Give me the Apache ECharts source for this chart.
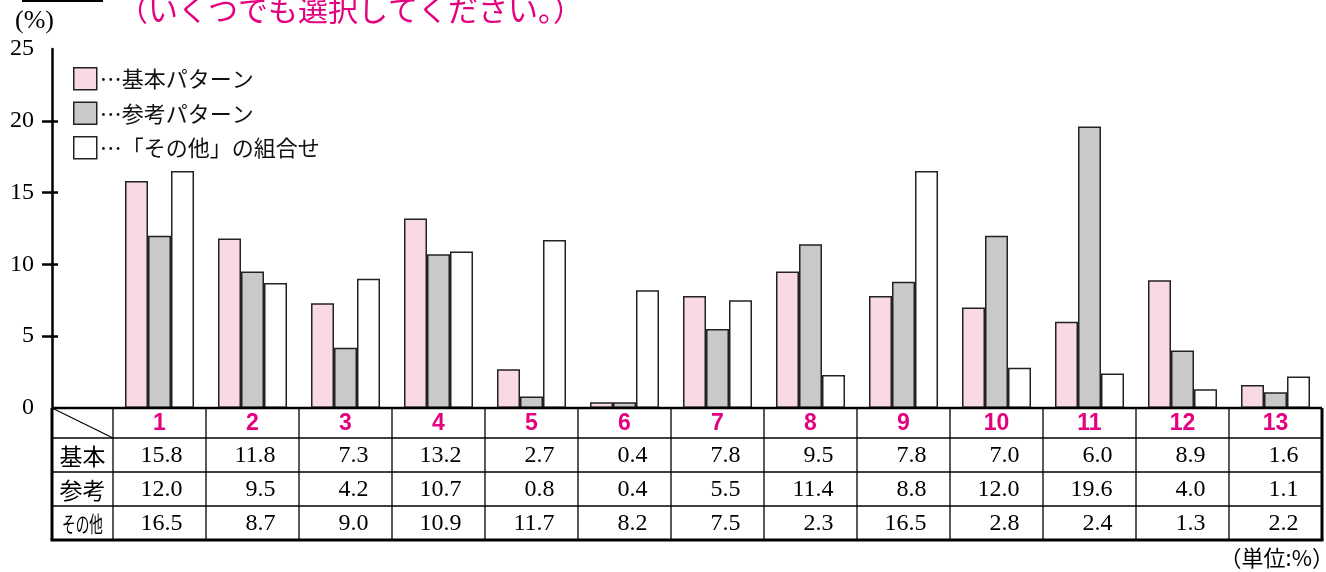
<!DOCTYPE html>
<html><head><meta charset="utf-8">
<script src="https://cdn.jsdelivr.net/npm/echarts@6/dist/echarts.min.js"></script>
<style>html,body{margin:0;padding:0;background:#fff}#c{width:1326px;height:572px}</style>
</head><body><div id="c"></div>
<script>
const categories = ['1','2','3','4','5','6','7','8','9','10','11','12','13'];
const seriesNames = ['基本パターン','参考パターン','「その他」の組合せ'];
const rowLabels = ['基本','参考','その他'];
const basicValues = [15.8,11.8,7.3,13.2,2.7,0.4,7.8,9.5,7.8,7.0,6.0,8.9,1.6];
const refValues = [12.0,9.5,4.2,10.7,0.8,0.4,5.5,11.4,8.8,12.0,19.6,4.0,1.1];
const otherValues = [16.5,8.7,9.0,10.9,11.7,8.2,7.5,2.3,16.5,2.8,2.4,1.3,2.2];
const yTickValues = [5,10,15,20];
const titleText = '（いくつでも選択してください。）';
const unitText = '（単位:%）';
const yUnitText = '(%)';

const SERIF = '"Liberation Serif","Noto Sans CJK JP",serif';
const CJK = '"Noto Sans CJK JP","Liberation Serif",sans-serif';
const MAGENTA = '#e4007f';
const colors = ['#f9d9e3','#c9c9c9','#ffffff'];
const allValues = [basicValues, refValues, otherValues];

const chart = echarts.init(document.getElementById('c'), null, {renderer:'canvas'});
const GRID = {left:113, right:4, top:49, bottom:164};
const YOFF = 61;

const option = {
  animation:false,
  backgroundColor:'#fff',
  grid: GRID,
  legend: {
    orient:'vertical', left:73, top:67, padding:0, itemWidth:23, itemHeight:22, itemGap:11,
    icon:'rect',
    data: seriesNames,
    formatter: n => '…' + n,
    textStyle:{fontSize:22, fontFamily:CJK, color:'#111', padding:[0,0,0,-2]},
    itemStyle:{borderColor:'#222', borderWidth:1.5}
  },
  xAxis: {
    type:'category', data:categories,
    axisLine:{show:false}, axisTick:{show:false}, axisLabel:{show:false}, splitLine:{show:false}
  },
  yAxis: [{
    type:'value', min:0, max:25, interval:5, offset:YOFF, position:'left',
    axisLine:{show:true, lineStyle:{color:'#000', width:2.5}},
    axisTick:{show:true, length:10, customValues:yTickValues, lineStyle:{color:'#000', width:2.5}},
    axisLabel:{color:'#000', fontFamily:SERIF, fontSize:24, margin:18},
    splitLine:{show:false}
  },{
    type:'value', min:0, max:25, interval:5, offset:YOFF, position:'left',
    axisLine:{show:false},
    axisTick:{show:true, inside:true, length:6, customValues:yTickValues, lineStyle:{color:'#000', width:2.5}},
    axisLabel:{show:false},
    splitLine:{show:false}
  }],
  series: seriesNames.map((n,k)=>({
    name:n, type:'bar', data:allValues[k], barWidth:23, barGap:'0%',
    itemStyle:{color:colors[k], borderColor:'#222', borderWidth:1.5}
  }))
};
chart.setOption(option);

// Build data table under the plot from the same arrays
const xs = categories.map((c,i)=>chart.convertToPixel({xAxisIndex:0}, i));
const half = (xs[1]-xs[0])/2;
const y0 = chart.convertToPixel({yAxisIndex:0}, 0);
const gridLeft = xs[0]-half;
const tL = gridLeft - YOFF;
const tR = xs[xs.length-1]+half;
const rowH = [30,34,34,34];
const rowY = [y0];
rowH.forEach(h=>rowY.push(rowY[rowY.length-1]+h));
const g = [];
const line = (x1,y1,x2,y2,w)=>g.push({type:'line', shape:{x1,y1,x2,y2}, style:{stroke:'#000', lineWidth:w}, z:10});
line(tL, rowY[0], tR, rowY[0], 2.5);
for (let r=1;r<4;r++) line(tL, rowY[r], tR, rowY[r], 1.3);
line(tL-1.5, rowY[4], tR+1.5, rowY[4], 3);
line(tL, rowY[0], tL, rowY[4], 3);
line(tR, rowY[0], tR, rowY[4], 3);
line(gridLeft, rowY[0], gridLeft, rowY[4], 1.3);
for (let i=0;i<xs.length-1;i++) line(xs[i]+half, rowY[0], xs[i]+half, rowY[4], 1.3);
line(tL, rowY[0], gridLeft, rowY[1], 1.2);
categories.forEach((c,i)=>g.push({type:'text', x:xs[i], y:rowY[0]+rowH[0]/2+1, z:11,
  style:{text:c, fill:MAGENTA, font:'bold 23px "Liberation Sans",Arial,sans-serif', textAlign:'center', textVerticalAlign:'middle'}}));
allValues.forEach((vals,r)=>{
  const cy = rowY[r+1]+rowH[r+1]/2+1;
  const cx = (tL+gridLeft)/2;
  if (r<2) {
    g.push({type:'text', x:cx, y:cy, z:11,
      style:{text:rowLabels[r], fill:'#000', font:'23px '+CJK, textAlign:'center', textVerticalAlign:'middle'}});
  } else {
    g.push({type:'text', x:cx, y:cy, z:11, scaleX:0.62,
      style:{text:rowLabels[r], fill:'#000', font:'22px '+CJK, textAlign:'center', textVerticalAlign:'middle'}});
  }
  vals.forEach((v,i)=>g.push({type:'text', x:xs[i]+23, y:cy, z:11,
    style:{text:v.toFixed(1), fill:'#000', font:'24px '+SERIF, textAlign:'right', textVerticalAlign:'middle'}}));
});
g.push({type:'text', x:118, y:10, z:11, style:{text:titleText, fill:MAGENTA, font:'30px '+CJK, textAlign:'left', textVerticalAlign:'middle'}});
g.push({type:'line', shape:{x1:22,y1:1,x2:103,y2:1}, style:{stroke:'#000', lineWidth:2}});
g.push({type:'text', x:15, y:21, z:11, style:{text:yUnitText, fill:'#000', font:'26px '+SERIF, textAlign:'left', textVerticalAlign:'middle'}});
g.push({type:'text', x:tR+12, y:558, z:11, style:{text:unitText, fill:'#000', font:'22px '+CJK, textAlign:'right', textVerticalAlign:'middle'}});
chart.setOption({graphic:g});
</script>
</body></html>
